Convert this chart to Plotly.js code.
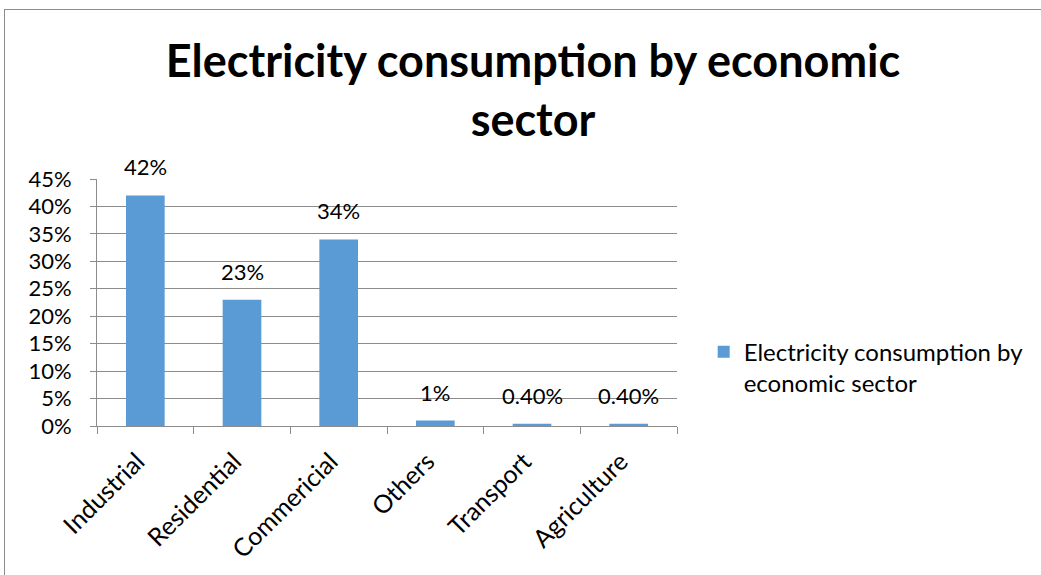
<!DOCTYPE html>
<html>
<head>
<meta charset="utf-8">
<script src="https://cdn.plot.ly/plotly-3.0.1.min.js"></script>
<style>
html,body{margin:0;padding:0;background:#fff;}
#wrap{position:relative;width:1041px;height:575px;overflow:hidden;}
#chart{position:absolute;left:0;top:0;width:1041px;height:575px;}
#frame{position:absolute;left:4px;top:9px;width:1100px;height:700px;border:1px solid #8c8c8c;pointer-events:none;}
</style>
</head>
<body>
<div id="wrap"><div id="chart"></div><div id="frame"></div></div>
<script>
const categories = ["Industrial", "Residential", "Commericial", "Others", "Transport", "Agriculture"];
const values = [0.42, 0.23, 0.34, 0.01, 0.004, 0.004];
const labels = ["42%", "23%", "34%", "1%", "0.40%", "0.40%"];
const seriesName = "Electricity consumption by economic sector";
const yTickVals = [0, 0.05, 0.10, 0.15, 0.20, 0.25, 0.30, 0.35, 0.40, 0.45];
const yTickText = ["0%", "5%", "10%", "15%", "20%", "25%", "30%", "35%", "40%", "45%"];

const FONT = "Lato, 'Open Sans', sans-serif";

const trace = {
  type: "bar",
  x: categories,
  y: values,
  name: "Electricity consumption by<br>economic sector",
  marker: {color: "#5B9BD5"},
  showlegend: true,
  hoverinfo: "skip"
};

const annotations = categories.map((c, i) => ({
  x: c, y: values[i], xref: "x", yref: "y",
  text: labels[i], showarrow: false,
  yanchor: "bottom", yshift: 13,
  font: {family: FONT, size: 22, color: "#000"}
}));

const layout = {
  width: 1041, height: 575,
  paper_bgcolor: "#fff", plot_bgcolor: "#fff",
  margin: {l: 97, r: 361, t: 179, b: 149, pad: 0},
  font: {family: FONT, color: "#000"},
  title: {
    text: "<b>Electricity consumption by economic<br>sector</b>",
    x: 0.512, xanchor: "center",
    y: 0.866, yanchor: "middle", yref: "container",
    font: {family: FONT, size: 45, color: "#000"}
  },
  bargap: 0.6,
  xaxis: {
    type: "category",
    showline: true, linecolor: "#8c8c8c", linewidth: 1,
    ticks: "outside", tickson: "boundaries", ticklen: 7, tickcolor: "#8c8c8c",
    tickangle: -45,
    ticklabelshift: -8, ticklabelstandoff: 10,
    tickfont: {family: FONT, size: 25, color: "#000"},
    showgrid: false, zeroline: false, fixedrange: true
  },
  yaxis: {
    range: [0, 0.45],
    tickvals: yTickVals, ticktext: yTickText,
    showline: true, linecolor: "#8c8c8c", linewidth: 1,
    ticks: "outside", ticklen: 6, tickcolor: "#8c8c8c",
    ticklabelstandoff: 14,
    showgrid: true, gridcolor: "#8c8c8c", gridwidth: 1,
    zeroline: false,
    tickfont: {family: FONT, size: 22, color: "#000"},
    fixedrange: true
  },
  showlegend: true,
  legend: {
    x: 1.046, xanchor: "left", y: 0.39, yanchor: "top",
    valign: "top",
    font: {family: FONT, size: 24, color: "#000"},
    bgcolor: "rgba(0,0,0,0)", itemwidth: 30
  },
  annotations: annotations
};

Plotly.newPlot("chart", [trace], layout, {displayModeBar: false, staticPlot: true});
</script>
</body>
</html>
